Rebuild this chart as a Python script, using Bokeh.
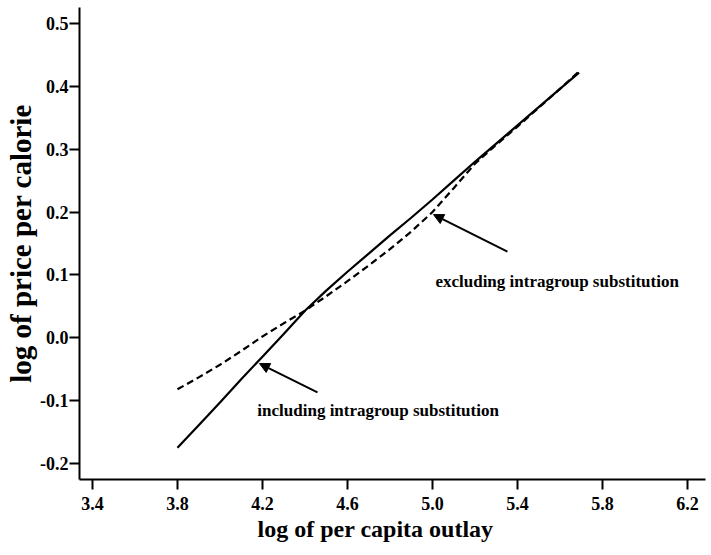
from bokeh.plotting import figure
from bokeh.models import Range1d, FixedTicker, Arrow, NormalHead, Label, PrintfTickFormatter, Title
from bokeh.embed import file_html
from bokeh.resources import INLINE

# --- data ---
x_ticks = [3.4, 3.8, 4.2, 4.6, 5.0, 5.4, 5.8, 6.2]
y_ticks = [-0.2, -0.1, 0.0, 0.1, 0.2, 0.3, 0.4, 0.5]

incl_x = [3.80, 3.90, 4.00, 4.10, 4.20, 4.30, 4.40, 4.50, 4.60, 4.70,
          4.80, 4.90, 5.00, 5.10, 5.20, 5.30, 5.40, 5.50, 5.60, 5.69]
incl_y = [-0.175, -0.139, -0.103, -0.066, -0.030, 0.006, 0.043, 0.075, 0.105, 0.134,
          0.163, 0.191, 0.220, 0.250, 0.280, 0.309, 0.338, 0.367, 0.396, 0.422]

excl_x = [3.80, 3.90, 4.00, 4.10, 4.20, 4.30, 4.40, 4.50, 4.60, 4.70,
          4.80, 4.90, 5.00, 5.10, 5.20, 5.30, 5.40, 5.50, 5.60, 5.69]
excl_y = [-0.082, -0.063, -0.043, -0.021, 0.002, 0.023, 0.043, 0.066, 0.090, 0.115,
          0.141, 0.169, 0.200, 0.238, 0.277, 0.307, 0.336, 0.366, 0.396, 0.424]

excl_label = "excluding intragroup substitution"
incl_label = "including intragroup substitution"
x_title = "log of per capita outlay"
y_title = "log of price per calorie"

FONT = "Liberation Serif"

p = figure(width=711, height=555, output_backend="svg", toolbar_location=None,
           x_range=Range1d(3.339, 6.285), y_range=Range1d(-0.2255, 0.5255),
           min_border_left=79, min_border_bottom=76, min_border_top=7, min_border_right=6)
p.outline_line_color = None
p.grid.visible = False
p.background_fill_color = "white"
p.border_fill_color = "white"

p.xaxis.ticker = FixedTicker(ticks=x_ticks)
p.yaxis.ticker = FixedTicker(ticks=y_ticks)
p.xaxis.formatter = PrintfTickFormatter(format="%.1f")
p.yaxis.formatter = PrintfTickFormatter(format="%.1f")

for ax in (p.xaxis, p.yaxis):
    ax.axis_line_width = 2
    ax.axis_line_color = "black"
    ax.major_tick_line_width = 2
    ax.major_tick_line_color = "black"
    ax.major_tick_out = 10
    ax.major_tick_in = 0
    ax.minor_tick_line_color = None
    ax.major_label_text_font = FONT
    ax.major_label_text_font_style = "bold"
    ax.major_label_text_font_size = "18px"
    ax.major_label_text_color = "black"

p.xaxis.major_label_standoff = 7
p.yaxis.major_label_standoff = 1

p.yaxis.axis_label = y_title
p.yaxis.axis_label_text_font = FONT
p.yaxis.axis_label_text_font_style = "bold"
p.yaxis.axis_label_text_font_size = "29px"
p.yaxis.axis_label_text_color = "black"
p.yaxis.axis_label_standoff = 0

p.add_layout(Title(text=x_title, align="left", offset=178, standoff=2,
                   text_font=FONT, text_font_style="bold", text_font_size="24px",
                   text_color="black"), "below")

p.line(incl_x, incl_y, line_color="black", line_width=2.2)
p.line(excl_x, excl_y, line_color="black", line_width=2.2, line_dash="7 4")

p.add_layout(Arrow(end=NormalHead(size=10, fill_color="black", line_color="black"),
                   x_start=5.353, y_start=0.137, x_end=5.005, y_end=0.196,
                   line_width=2, line_color="black"))
p.add_layout(Arrow(end=NormalHead(size=10, fill_color="black", line_color="black"),
                   x_start=4.459, y_start=-0.087, x_end=4.186, y_end=-0.041,
                   line_width=2, line_color="black"))

p.add_layout(Label(x=5.014, y=0.089, text=excl_label, text_font=FONT,
                   text_font_style="bold", text_font_size="17px",
                   text_baseline="middle", text_color="black"))
p.add_layout(Label(x=4.176, y=-0.116, text=incl_label, text_font=FONT,
                   text_font_style="bold", text_font_size="17px",
                   text_baseline="middle", text_color="black"))

open("out.html", "w").write(file_html(p, INLINE))
